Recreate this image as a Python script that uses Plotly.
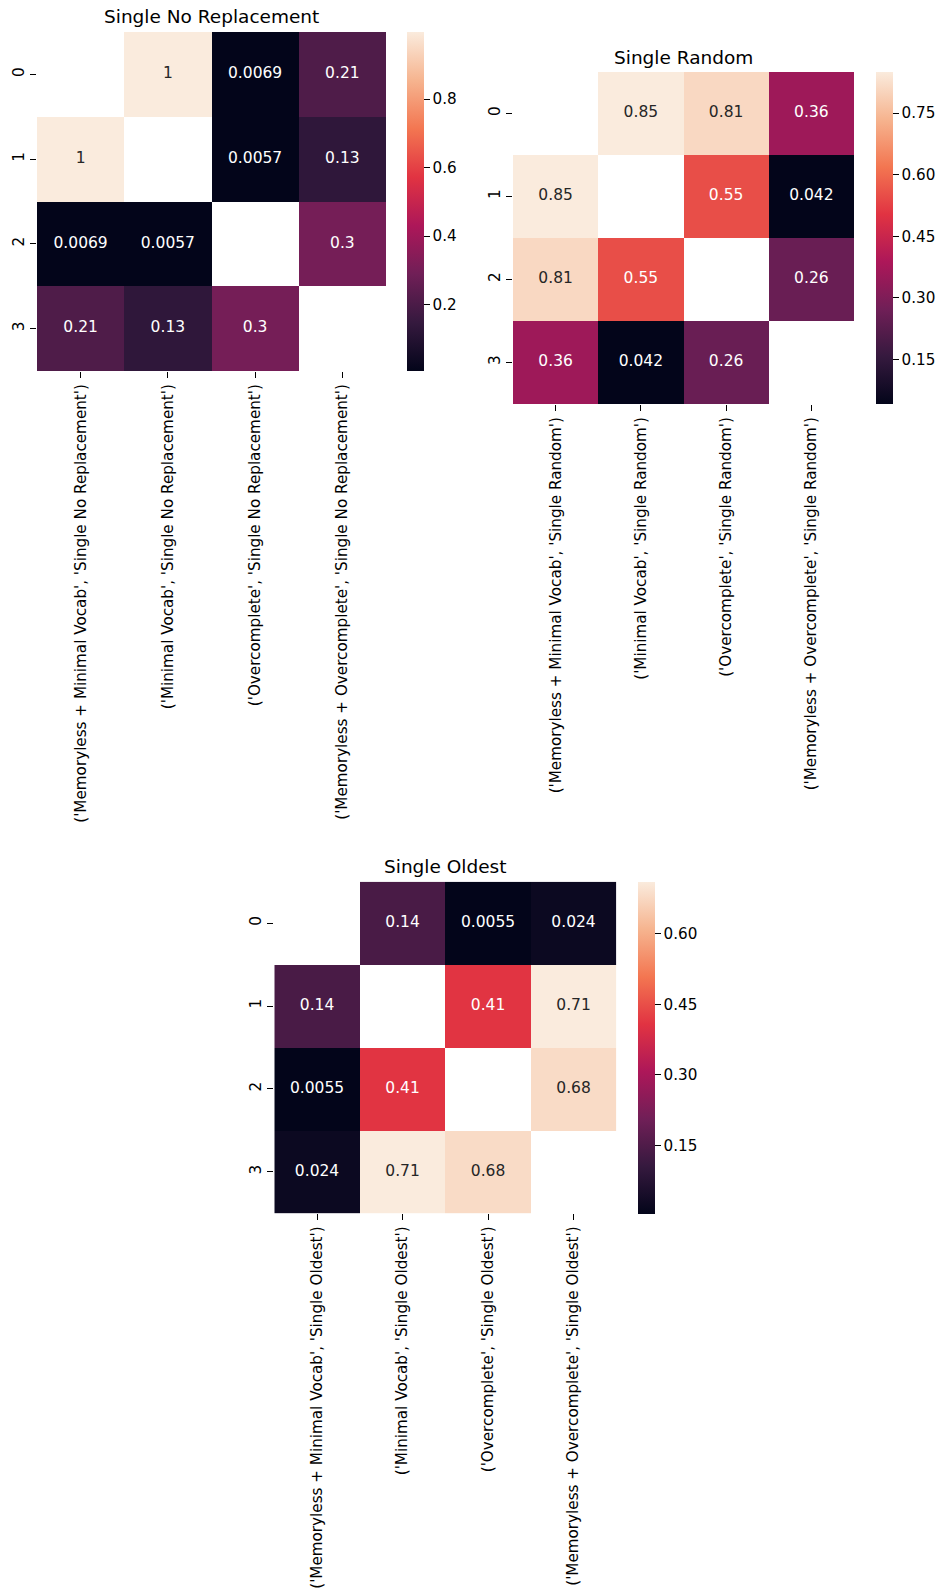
import plotly.graph_objects as go

# ---------------- data ----------------
row_labels = ["0", "1", "2", "3"]
methods = ["Memoryless + Minimal Vocab", "Minimal Vocab", "Overcomplete", "Memoryless + Overcomplete"]

title_norepl = "Single No Replacement"
title_random = "Single Random"
title_oldest = "Single Oldest"

vals_norepl = [
    [None, 0.996, 0.0069, 0.21],
    [0.996, None, 0.0057, 0.13],
    [0.0069, 0.0057, None, 0.3],
    [0.21, 0.13, 0.3, None],
]
vals_random = [
    [None, 0.85, 0.81, 0.36],
    [0.85, None, 0.55, 0.042],
    [0.81, 0.55, None, 0.26],
    [0.36, 0.042, 0.26, None],
]
vals_oldest = [
    [None, 0.14, 0.0055, 0.024],
    [0.14, None, 0.41, 0.71],
    [0.0055, 0.41, None, 0.68],
    [0.024, 0.71, 0.68, None],
]

cb_ticks_norepl = [0.2, 0.4, 0.6, 0.8]
cb_ticks_random = [0.15, 0.30, 0.45, 0.60, 0.75]
cb_ticks_oldest = [0.15, 0.30, 0.45, 0.60]

# ---------------- style ----------------
W, H = 943, 1594
FONT = "DejaVu Sans"
rocket = [
    [0.0, "#03051A"],
    [1 / 7, "#35193E"],
    [2 / 7, "#701F57"],
    [3 / 7, "#AD1759"],
    [4 / 7, "#E13342"],
    [5 / 7, "#F37651"],
    [6 / 7, "#F6B48F"],
    [1.0, "#FAEBDD"],
]

# pixel boxes: (left, right, top, bottom) of heatmap, colorbar left
panels = [
    dict(title=title_norepl, z=vals_norepl, ticks=cb_ticks_norepl, fmt=".1f",
         box=(37, 386, 32, 371), cbx=407),
    dict(title=title_random, z=vals_random, ticks=cb_ticks_random, fmt=".2f",
         box=(513, 854, 72, 404), cbx=876),
    dict(title=title_oldest, z=vals_oldest, ticks=cb_ticks_oldest, fmt=".2f",
         box=(274.3, 616.3, 881.7, 1213.3), cbx=637.7),
]


def px_x(v):
    return v / W


def px_y(v):
    return 1 - v / H


fig = go.Figure()
layout = dict(
    width=W, height=H,
    margin=dict(l=0, r=0, t=0, b=0),
    paper_bgcolor="white", plot_bgcolor="white",
    font=dict(family=FONT, size=15, color="black"),
    showlegend=False,
    annotations=[],
)

for k, p in enumerate(panels, start=1):
    sfx = "" if k == 1 else str(k)
    z = p["z"]
    flat = [v for row in z for v in row if v is not None]
    zmin, zmax = min(flat), max(flat)
    xlabels = [f"('{m}', '{p['title']}')" for m in methods]
    l, r, t, b = p["box"]

    fig.add_trace(go.Heatmap(
        z=z, x=list(range(len(methods))), y=list(range(len(row_labels))),
        coloraxis="coloraxis" + sfx, xaxis="x" + sfx, yaxis="y" + sfx,
        hoverongaps=False,
    ))

    tx, ty, tt, tc = [], [], [], []
    for i, row in enumerate(z):
        for j, v in enumerate(row):
            if v is None:
                continue
            tx.append(j)
            ty.append(i)
            tt.append(format(v, ".2g"))
            norm = (v - zmin) / (zmax - zmin)
            tc.append("#262626" if norm > 0.75 else "white")
    fig.add_trace(go.Scatter(
        x=tx, y=ty, text=tt, mode="text", xaxis="x" + sfx, yaxis="y" + sfx,
        textfont=dict(family=FONT, size=15.5, color=tc), hoverinfo="skip",
    ))

    layout["xaxis" + sfx] = dict(
        domain=[px_x(l), px_x(r)], anchor="y" + sfx, range=[-0.5, 3.5],
        tickmode="array", tickvals=list(range(len(methods))), ticktext=xlabels,
        tickangle=-90, ticks="outside", ticklen=6, tickwidth=1, tickcolor="black",
        showgrid=False, zeroline=False, showline=False, automargin=False,
        tickfont=dict(family=FONT, size=15.2, color="black"), fixedrange=True,
    )
    layout["yaxis" + sfx] = dict(
        domain=[px_y(b), px_y(t)], anchor="x" + sfx, range=[3.5, -0.5],
        tickmode="array", tickvals=list(range(len(row_labels))), ticktext=row_labels,
        tickangle=-90, ticks="outside", ticklen=6, tickwidth=1, tickcolor="black",
        showgrid=False, zeroline=False, showline=False, automargin=False,
        tickfont=dict(family=FONT, size=15.2, color="black"), fixedrange=True,
    )
    layout["coloraxis" + sfx] = dict(
        colorscale=rocket, cmin=zmin, cmax=zmax,
        colorbar=dict(
            x=px_x(p["cbx"]), xanchor="left", xpad=0,
            y=px_y(t), yanchor="top", ypad=0,
            len=b - t, lenmode="pixels", thickness=17, thicknessmode="pixels",
            outlinewidth=0, ticks="outside", ticklen=6, tickwidth=1, tickcolor="black",
            tickmode="array", tickvals=p["ticks"],
            ticktext=[format(v, p["fmt"]) for v in p["ticks"]],
            tickfont=dict(family=FONT, size=15.2, color="black"),
        ),
    )
    layout["annotations"].append(dict(
        text=p["title"], xref="paper", yref="paper",
        x=px_x((l + r) / 2), y=px_y(t - 15), xanchor="center", yanchor="middle",
        showarrow=False, font=dict(family=FONT, size=18.5, color="black"),
    ))

fig.update_layout(**layout)
fig.write_html(
    "out.html",
    config={"displayModeBar": False},
    post_script="document.body.style.margin='0';document.body.style.overflow='hidden';",
)
